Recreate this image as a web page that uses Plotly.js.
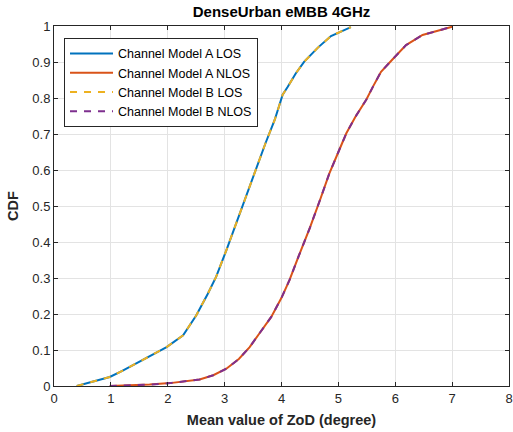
<!DOCTYPE html>
<html>
<head>
<meta charset="utf-8">
<script src="https://cdn.plot.ly/plotly-3.0.1.min.js"></script>
<style>html,body{margin:0;padding:0;background:#fff;}#chart{width:513px;height:432px;}</style>
</head>
<body>
<div id="chart"></div>
<script>
// LOS curve (Model A and Model B overlap)
const losX = [0.40, 0.70, 0.98, 1.20, 1.45, 1.75, 1.98, 2.27, 2.50, 2.70, 2.85, 3.03, 3.20, 3.38, 3.56, 3.72, 3.88, 4.02, 4.11, 4.25, 4.40, 4.64, 4.87, 5.05, 5.22];
const losY = [0.00, 0.012, 0.025, 0.042, 0.063, 0.088, 0.108, 0.141, 0.196, 0.255, 0.303, 0.377, 0.450, 0.530, 0.609, 0.675, 0.739, 0.809, 0.831, 0.868, 0.901, 0.940, 0.972, 0.986, 0.997];
// NLOS curve (Model A and Model B overlap)
const nlosX = [0.98, 1.30, 1.68, 2.04, 2.30, 2.56, 2.80, 3.03, 3.25, 3.44, 3.62, 3.82, 4.00, 4.14, 4.30, 4.50, 4.68, 4.84, 5.00, 5.14, 5.30, 5.49, 5.62, 5.75, 5.95, 6.19, 6.48, 6.71, 7.00];
const nlosY = [0.00, 0.001, 0.004, 0.008, 0.012, 0.018, 0.030, 0.048, 0.075, 0.108, 0.148, 0.192, 0.245, 0.294, 0.360, 0.440, 0.518, 0.590, 0.650, 0.702, 0.748, 0.795, 0.835, 0.873, 0.907, 0.947, 0.975, 0.986, 0.998];

const names = ['Channel Model A LOS', 'Channel Model A NLOS', 'Channel Model B LOS', 'Channel Model B NLOS'];
const colors = ['#0072BD', '#D95319', '#EDB120', '#7E2F8E'];

const traces = [
  {x: losX, y: losY, name: names[0], mode: 'lines', line: {color: colors[0], width: 2}},
  {x: nlosX, y: nlosY, name: names[1], mode: 'lines', line: {color: colors[1], width: 2}},
  {x: losX, y: losY, name: names[2], mode: 'lines', line: {color: colors[2], width: 2, dash: '7px,7px'}},
  {x: nlosX, y: nlosY, name: names[3], mode: 'lines', line: {color: colors[3], width: 2, dash: '7px,7px'}}
];

const axisCommon = {
  showgrid: true, gridcolor: '#e3e3e3', gridwidth: 1,
  showline: true, linecolor: '#262626', linewidth: 1,
  mirror: 'ticks', ticks: 'inside', ticklen: 4, tickcolor: '#262626',
  zeroline: false, tickfont: {family: 'Liberation Sans, Arial, sans-serif', size: 13, color: '#262626'},
  automargin: false, fixedrange: true
};

const layout = {
  width: 513, height: 432,
  margin: {l: 54, r: 4, t: 26, b: 46},
  paper_bgcolor: '#ffffff', plot_bgcolor: '#ffffff',
  font: {family: 'Liberation Sans, Arial, sans-serif', color: '#262626'},
  title: {text: '<b>DenseUrban eMBB 4GHz</b>', font: {size: 15, color: '#000'}, xref: 'paper', x: 0.5, xanchor: 'center', yref: 'container', y: 0.972, yanchor: 'middle'},
  xaxis: Object.assign({}, axisCommon, {range: [0, 8], dtick: 1, tick0: 0,
    title: {text: '<b>Mean value of ZoD (degree)</b>', font: {size: 14.5, color: '#262626'}, standoff: 10}}),
  yaxis: Object.assign({}, axisCommon, {range: [0, 1], dtick: 0.1, tick0: 0,
    title: {text: '<b>CDF</b>', font: {size: 14.5, color: '#262626'}, standoff: 10}}),
  showlegend: true,
  legend: {x: 0.022, y: 0.967, xanchor: 'left', yanchor: 'top', bgcolor: '#ffffff', bordercolor: '#262626', borderwidth: 1,
    font: {size: 12.5, color: '#000'}, itemwidth: 43, tracegroupgap: 0}
};

Plotly.newPlot('chart', traces, layout, {displayModeBar: false, staticPlot: true});
</script>
</body>
</html>
